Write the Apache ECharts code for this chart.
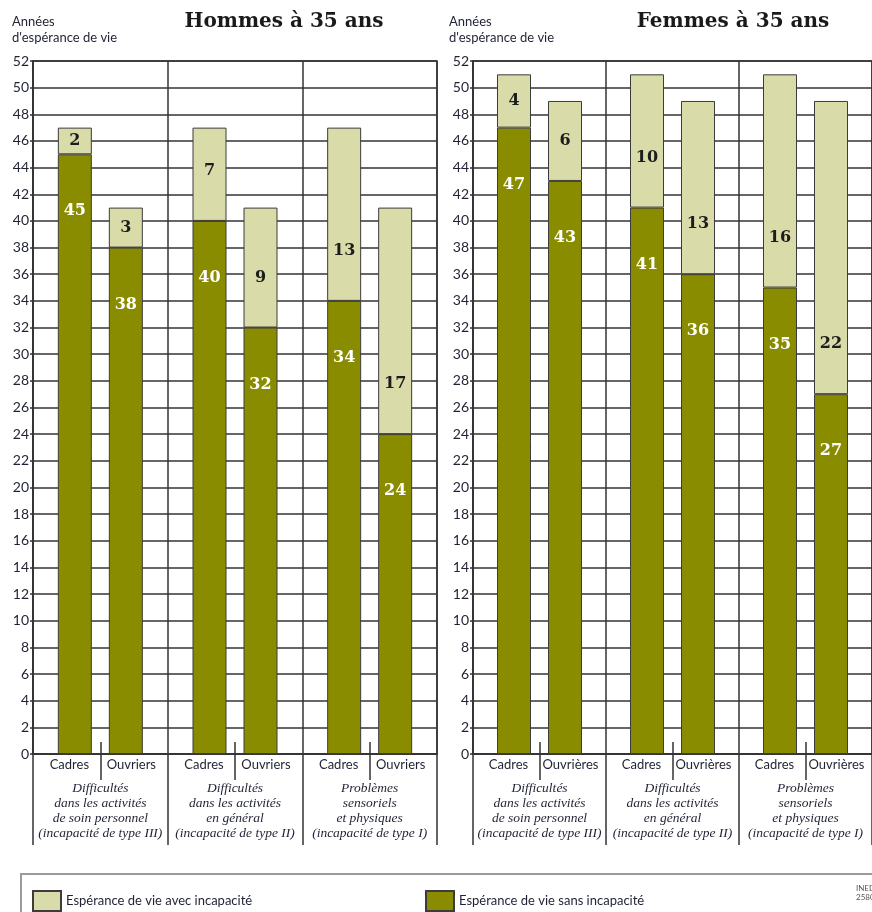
<!DOCTYPE html>
<html>
<head>
<meta charset="utf-8">
<script src="https://cdn.jsdelivr.net/npm/echarts@6/dist/echarts.min.js"></script>
<style>
html,body{margin:0;padding:0;background:#fff;}
#chart{width:872px;height:912px;}
</style>
</head>
<body>
<div id="chart"></div>
<script>
// ---- Data ----
const groups = [
  'Difficultés\ndans les activités\nde soin personnel\n(incapacité de type III)',
  'Difficultés\ndans les activités\nen général\n(incapacité de type II)',
  'Problèmes\nsensoriels\net physiques\n(incapacité de type I)'
];
const menSubLabels = ['Cadres', 'Ouvriers'];
const womenSubLabels = ['Cadres', 'Ouvrières'];
const menCadresSans = [45, 40, 34];
const menCadresAvec = [2, 7, 13];
const menOuvriersSans = [38, 32, 24];
const menOuvriersAvec = [3, 9, 17];
const womenCadresSans = [47, 41, 35];
const womenCadresAvec = [4, 10, 16];
const womenOuvrieresSans = [43, 36, 27];
const womenOuvrieresAvec = [6, 13, 22];
const yMin = 0, yMax = 52, yStep = 2;
const nameAvec = 'Espérance de vie avec incapacité';
const nameSans = 'Espérance de vie sans incapacité';
const titles = ['Hommes à 35 ans', 'Femmes à 35 ans'];
const yName = "Années\nd'espérance de vie";

// ---- Styles ----
const DARK = '#8a8c00', LIGHT = '#d9dba8', EDGE = '#3c3c3c', LINE = '#333333';
const TXT = '#1f2233';
const serif = "'DejaVu Serif', 'Liberation Serif', serif";
const nserif = "'Liberation Serif', serif";
const sans = "Lato, 'Noto Sans', sans-serif";

const chart = echarts.init(document.getElementById('chart'), null, {renderer: 'canvas'});

function xAxes(gi, subs) {
  return [
    {
      type: 'category', gridIndex: gi, data: groups, position: 'bottom',
      axisLine: {show: true, lineStyle: {color: LINE, width: 1.5}},
      axisTick: {show: true, interval: 0, length: 91, lineStyle: {color: LINE, width: 1.5}},
      splitLine: {show: true, interval: 0, lineStyle: {color: LINE, width: 1.5}},
      axisLabel: {
        interval: 0, margin: 9,
        formatter: function (v) {
          return '{c|' + subs[0] + '}{o|' + subs[1] + '}\n' +
            v.split('\n').map(l => '{g|' + l + '}').join('\n');
        },
        rich: {
          c: {width: 62, align: 'center', fontFamily: sans, fontSize: 13, color: TXT, lineHeight: 18, padding: [0, 0, 14, 0]},
          o: {width: 62, align: 'center', fontFamily: sans, fontSize: 13, color: TXT, lineHeight: 18, padding: [0, 0, 14, 0]},
          g: {fontFamily: nserif, fontStyle: 'italic', fontSize: 13.5, color: TXT, lineHeight: 15, align: 'center'}
        }
      }
    },
    {
      type: 'category', gridIndex: gi, data: groups, position: 'bottom', offset: -12,
      axisLine: {show: false},
      axisTick: {show: true, interval: 0, alignWithLabel: true, length: 38, lineStyle: {color: LINE, width: 1.5}},
      axisLabel: {show: false},
      splitLine: {show: false}
    }
  ];
}

function yAxis(gi) {
  return {
    type: 'value', gridIndex: gi, min: yMin, max: yMax, interval: yStep,
    axisLine: {show: true, lineStyle: {color: LINE, width: 1.5}},
    axisTick: {show: true, length: 3, lineStyle: {color: LINE, width: 1.5}},
    splitLine: {show: true, lineStyle: {color: LINE, width: 1.5}},
    axisLabel: {color: TXT, fontFamily: sans, fontSize: 14, margin: 4}
  };
}

function darkSeries(data, stack, xi, yi) {
  return {
    type: 'bar', name: nameSans, stack: stack, xAxisIndex: xi, yAxisIndex: yi,
    barWidth: 34, barGap: '50%',
    itemStyle: {color: DARK, borderColor: EDGE, borderWidth: 1},
    label: {show: true, position: 'insideTop', distance: 49, color: '#ffffff',
      fontFamily: serif, fontWeight: 'bold', fontSize: 16},
    data: data
  };
}
function lightSeries(data, stack, xi, yi) {
  return {
    type: 'bar', name: nameAvec, stack: stack, xAxisIndex: xi, yAxisIndex: yi,
    barWidth: 34, barGap: '50%',
    itemStyle: {color: LIGHT, borderColor: EDGE, borderWidth: 1},
    label: {show: true, position: 'inside', color: '#1d1d1d',
      fontFamily: serif, fontWeight: 'bold', fontSize: 16},
    data: data.map(v => v >= 7
      ? {value: v, label: {position: 'insideBottom', distance: 42}}
      : {value: v})
  };
}

const legendCommon = {top: 885, itemWidth: 28, itemHeight: 20, itemGap: 10, selectedMode: false,
  icon: 'rect', textStyle: {fontFamily: sans, fontSize: 13, color: TXT}};

const option = {
  backgroundColor: '#ffffff',
  animation: false,
  grid: [
    {left: 33, top: 61, width: 404, height: 693, show: true, borderColor: LINE, borderWidth: 1.5},
    {left: 473, top: 61, width: 404, height: 693, show: true, borderColor: LINE, borderWidth: 1.5}
  ],
  xAxis: xAxes(0, menSubLabels).concat(xAxes(1, womenSubLabels)),
  yAxis: [yAxis(0), yAxis(1)],
  legend: [
    Object.assign({left: 27, data: [nameAvec]}, legendCommon),
    Object.assign({left: 420, data: [nameSans]}, legendCommon)
  ],
  series: [
    darkSeries(menCadresSans, 'mc', 0, 0),
    lightSeries(menCadresAvec, 'mc', 0, 0),
    darkSeries(menOuvriersSans, 'mo', 0, 0),
    lightSeries(menOuvriersAvec, 'mo', 0, 0),
    darkSeries(womenCadresSans, 'wc', 2, 1),
    lightSeries(womenCadresAvec, 'wc', 2, 1),
    darkSeries(womenOuvrieresSans, 'wo', 2, 1),
    lightSeries(womenOuvrieresAvec, 'wo', 2, 1)
  ],
  graphic: [
    {type: 'text', left: 12, top: 14, style: {text: yName, font: '13px ' + sans, fill: TXT, lineHeight: 16}},
    {type: 'text', left: 449, top: 14, style: {text: yName, font: '13px ' + sans, fill: TXT, lineHeight: 16}},
    {type: 'text', x: 284, y: 22, style: {text: titles[0], font: 'bold 20px ' + serif, fill: '#1a1a1a', align: 'center', verticalAlign: 'middle'}},
    {type: 'text', x: 733, y: 22, style: {text: titles[1], font: 'bold 20px ' + serif, fill: '#1a1a1a', align: 'center', verticalAlign: 'middle'}},
    {type: 'rect', shape: {x: 21, y: 874, width: 870, height: 60}, style: {fill: 'none', stroke: '#9a9a9a', lineWidth: 2}},
    {type: 'text', left: 856, top: 884, style: {text: 'INED\n2580', font: '8px ' + sans, fill: '#555', lineHeight: 9}}
  ]
};
chart.setOption(option);
</script>
</body>
</html>
